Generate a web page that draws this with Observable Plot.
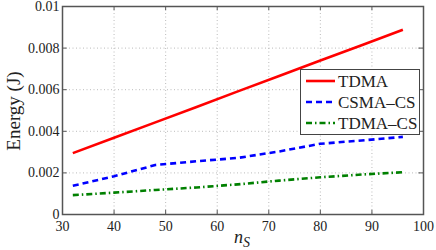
<!DOCTYPE html>
<html><head><meta charset="utf-8">
<script src="https://cdn.jsdelivr.net/npm/d3@7"></script>
<script src="https://cdn.jsdelivr.net/npm/@observablehq/plot@0.6"></script>
<style>body{margin:0;background:#fff} svg text{font-family:"Liberation Serif","Times New Roman","DejaVu Serif",serif}</style>
</head><body><div id="chart"></div>
<script>
const nS = [32, 40, 48, 56, 64, 72, 80, 88, 96];
const tdma = [0.00295, 0.00369, 0.00443, 0.00517, 0.00592, 0.00666, 0.00740, 0.00814, 0.00888];
const csmaCS = [0.00138, 0.00184, 0.00238, 0.00256, 0.00272, 0.00303, 0.00340, 0.00356, 0.00373];
const tdmaCS = [0.00093, 0.00105, 0.00118, 0.00130, 0.00145, 0.00163, 0.00179, 0.00192, 0.00203];
const xTicks = [30, 40, 50, 60, 70, 80, 90, 100];
const yTicks = [0, 0.002, 0.004, 0.006, 0.008, 0.01];
const seriesNames = ["TDMA", "CSMA\u2013CS", "TDMA\u2013CS"];
const colors = ["#ff0000", "#0000ff", "#008000"];
const dashes = [null, "6,4", "6,3,1.5,3"];
const seriesVals = [tdma, csmaCS, tdmaCS];

const font = "'Liberation Serif', 'Times New Roman', 'DejaVu Serif', serif";
const marks = [
  Plot.ruleX(xTicks.slice(1, -1), {x: d => d, stroke: "#aaa", strokeWidth: 0.8, strokeDasharray: "1,2.5"}),
  Plot.ruleY(yTicks.slice(1, -1), {y: d => d, stroke: "#aaa", strokeWidth: 0.8, strokeDasharray: "1,2.5"}),
  Plot.axisX(xTicks, {tickSize: 0, tickPadding: 7, fontSize: 14, label: null}),
  Plot.axisY(yTicks, {tickSize: 0, tickPadding: 3, fontSize: 14, label: null,
    tickFormat: d => String(+d.toFixed(3))}),
  Plot.ruleX(xTicks, {x: d => d, y1: 0, y2: 0.0002, stroke: "#555"}),
  Plot.ruleX(xTicks, {x: d => d, y1: 0.0098, y2: 0.01, stroke: "#555"}),
  Plot.ruleY(yTicks, {y: d => d, x1: 30, x2: 30.9, stroke: "#555"}),
  Plot.ruleY(yTicks, {y: d => d, x1: 99.1, x2: 100, stroke: "#555"})
];
seriesVals.forEach((vals, i) => {
  marks.push(Plot.line(nS.map((x, j) => ({x, y: vals[j]})), {
    x: "x", y: "y", stroke: colors[i], strokeWidth: 2.6,
    strokeDasharray: dashes[i], strokeLinecap: "butt"
  }));
});
marks.push(Plot.frame({stroke: "#555", strokeWidth: 1.5}));

const chart = Plot.plot({
  width: 436, height: 250,
  marginLeft: 62, marginRight: 13, marginTop: 6, marginBottom: 36,
  style: {fontSize: "14px", color: "#222", background: "#fff"},
  x: {domain: [30, 100]},
  y: {domain: [0, 0.01]},
  marks
});
document.getElementById("chart").appendChild(chart);
chart.style.fontFamily = font;
d3.select(chart).selectAll("text").style("font-family", font);

const svg = d3.select(chart);
// axis labels
svg.append("text")
  .attr("transform", "translate(19.5,111) rotate(-90)")
  .attr("text-anchor", "middle")
  .style("font-family", font).attr("font-size", 19).attr("fill", "#222")
  .text("Energy (J)");
const xl = svg.append("text")
  .attr("x", 242).attr("y", 243)
  .attr("text-anchor", "middle")
  .style("font-family", font).attr("font-size", 18).attr("fill", "#222");
xl.append("tspan").attr("font-style", "italic").text("n");
xl.append("tspan").attr("dy", 4).attr("font-style", "italic").attr("font-size", 14).text("S");

// legend
const lg = svg.append("g");
lg.append("rect").attr("x", 300.5).attr("y", 69.5).attr("width", 119).attr("height", 65)
  .attr("fill", "#fff").attr("stroke", "#444").attr("stroke-width", 1);
seriesNames.forEach((name, i) => {
  const y = 81 + i * 21;
  lg.append("line").attr("x1", 306).attr("x2", 335).attr("y1", y).attr("y2", y)
    .attr("stroke", colors[i]).attr("stroke-width", 2.6)
    .attr("stroke-dasharray", dashes[i] || null);
  lg.append("text").attr("x", 338).attr("y", y).attr("dy", "0.35em")
    .attr("text-anchor", "start")
    .style("font-family", font).attr("font-size", 17).attr("fill", "#222")
    .text(name);
});
</script></body></html>
